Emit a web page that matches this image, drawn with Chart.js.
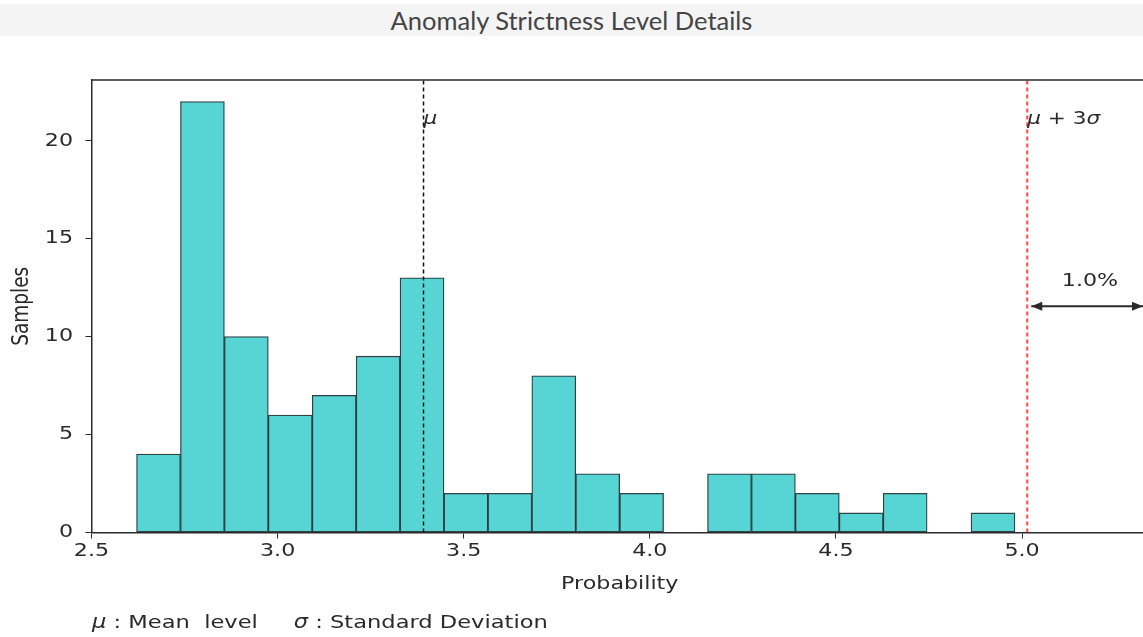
<!DOCTYPE html>
<html>
<head>
<meta charset="utf-8">
<script src="https://cdn.jsdelivr.net/npm/chart.js@4.4.1/dist/chart.umd.min.js"></script>
<style>
  html, body { margin: 0; padding: 0; background: #fff; overflow: hidden; width: 1143px; height: 637px; }
  #head { position: absolute; left: 0; top: 4px; width: 1143px; height: 32px; background: #f4f4f4;
          font-family: Lato, sans-serif; font-size: 25.5px; color: #444; text-align: center; line-height: 32px; }
  #wrap { position: absolute; left: 0; top: 0; width: 1143px; height: 637px; }
  #foot { position: absolute; left: 92px; top: 611px; font-family: "DejaVu Sans", sans-serif; font-size: 18.5px; color: #2a2a2a;
          white-space: pre; transform: scaleX(1.22); transform-origin: 0 0; }
  #foot i { font-style: italic; }
</style>
</head>
<body>
<div id="head">Anomaly Strictness Level Details</div>
<div id="wrap"><canvas id="c" width="1143" height="637"></canvas></div>
<div id="foot"><i>μ</i> : Mean  level     <i>σ</i> : Standard Deviation</div>
<script>
// --- DATA ---
const binCenters = [2.680, 2.798, 2.916, 3.034, 3.152, 3.270, 3.388, 3.506, 3.624, 3.742,
                    3.860, 3.978, 4.096, 4.214, 4.332, 4.450, 4.568, 4.686, 4.804, 4.922];
const binCounts  = [4, 22, 10, 6, 7, 9, 13, 2, 2, 8, 3, 2, 0, 3, 3, 2, 1, 2, 0, 1];
const xTicks = [2.5, 3.0, 3.5, 4.0, 4.5, 5.0];
const yTicks = [0, 5, 10, 15, 20];
const meanLevel = 3.392;
const upperLevel = 5.014;   // mu + 3 sigma
const tailLabel = '1.0%';
const xTitle = 'Probability', yTitle = 'Samples';
const xMin = 2.5, xMax = 5.325, yMax = 23.1;

const ink = '#2a2a2a';
const SX = 1.2;   // the original figure is stretched sideways
const FONT = '18.5px "DejaVu Sans"';

// draw text stretched horizontally
const txt = (ctx, s, x, y, align = 'left', font = FONT) => {
  ctx.save();
  ctx.font = font; ctx.textAlign = align; ctx.textBaseline = 'middle';
  ctx.translate(x, y); ctx.scale(SX, 1);
  ctx.fillText(s, 0, 0);
  const w = ctx.measureText(s).width * SX;
  ctx.restore();
  return w;
};

// labels, texts, arrow and top frame, positioned through the scales
const notes = {
  id: 'notes',
  afterDraw(chart) {
    const { ctx, chartArea: a, scales: { x, y } } = chart;
    ctx.save();
    ctx.strokeStyle = ink; ctx.fillStyle = ink; ctx.lineWidth = 1.5;
    ctx.beginPath(); ctx.moveTo(a.left, a.top); ctx.lineTo(a.right, a.top); ctx.stroke();

    // tick labels
    x.ticks.forEach(t => txt(ctx, t.value.toFixed(1), x.getPixelForValue(t.value), 551, 'center'));
    y.ticks.forEach(t => txt(ctx, String(t.value), 73, y.getPixelForValue(t.value), 'right'));

    // axis titles
    txt(ctx, xTitle, (a.left + 1150) / 2 - 1, 584, 'center');
    ctx.save();
    ctx.font = FONT; ctx.textAlign = 'center'; ctx.textBaseline = 'middle';
    ctx.translate(22, (a.top + a.bottom) / 2); ctx.rotate(-Math.PI / 2); ctx.scale(1, SX);
    ctx.fillText(yTitle, 0, 0);
    ctx.restore();

    // line labels
    const ly = y.getPixelForValue(21.1);
    const it = 'italic 18px "DejaVu Sans"', up = '18px "DejaVu Sans"';
    txt(ctx, 'μ', x.getPixelForValue(meanLevel), ly, 'left', it);
    let px = x.getPixelForValue(upperLevel);
    px += txt(ctx, 'μ', px, ly, 'left', it);
    px += txt(ctx, ' + 3', px, ly, 'left', up);
    txt(ctx, 'σ', px, ly, 'left', it);

    // double arrow to the right edge
    const ay = y.getPixelForValue(11.55);
    const x0 = x.getPixelForValue(upperLevel) + 4, x1 = a.right;
    ctx.lineWidth = 1.8;
    ctx.beginPath(); ctx.moveTo(x0, ay); ctx.lineTo(x1, ay); ctx.stroke();
    [[x0, 1], [x1, -1]].forEach(([hx, d]) => {
      ctx.beginPath(); ctx.moveTo(hx, ay); ctx.lineTo(hx + 11 * d, ay - 4.5); ctx.lineTo(hx + 11 * d, ay + 4.5); ctx.closePath(); ctx.fill();
    });
    txt(ctx, tailLabel, 1090, y.getPixelForValue(12.85), 'center');
    ctx.restore();
  }
};

new Chart(document.getElementById('c'), {
  type: 'bar',
  data: {
    datasets: [
      { type: 'bar', data: binCenters.map((c, i) => ({ x: c, y: binCounts[i] })),
        backgroundColor: '#57d5d5', borderColor: 'rgba(25,45,45,0.9)', borderWidth: 1.3,
        borderSkipped: false, barPercentage: 1, categoryPercentage: 1, order: 2 },
      { type: 'line', data: [{ x: meanLevel, y: 0 }, { x: meanLevel, y: yMax }],
        borderColor: '#111', borderWidth: 1.5, borderDash: [4, 3], pointRadius: 0, order: 1 },
      { type: 'line', data: [{ x: upperLevel, y: 0 }, { x: upperLevel, y: yMax }],
        borderColor: 'rgba(255,40,40,0.85)', borderWidth: 2, borderDash: [4, 3], pointRadius: 0, order: 1 }
    ]
  },
  options: {
    responsive: false,
    animation: false,
    devicePixelRatio: 1,
    layout: { padding: { top: 80, right: 0, bottom: 30, left: 0 } },
    plugins: { legend: { display: false }, tooltip: { enabled: false } },
    scales: {
      x: {
        type: 'linear', min: xMin, max: xMax, offset: false,
        afterBuildTicks: s => { s.ticks = xTicks.map(v => ({ value: v })); },
        afterFit: s => { s.height = 74.5; },
        grid: { drawOnChartArea: false, drawTicks: true, tickLength: 6, color: ink, offset: false },
        border: { display: true, color: ink, width: 1.5 },
        ticks: { display: false }
      },
      y: {
        min: 0, max: yMax,
        afterBuildTicks: s => { s.ticks = yTicks.map(v => ({ value: v })); },
        afterFit: s => { s.width = 91.5; },
        grid: { drawOnChartArea: false, drawTicks: true, tickLength: 6, color: ink },
        border: { display: true, color: ink, width: 1.5 },
        ticks: { display: false }
      }
    }
  },
  plugins: [notes]
});
</script>
</body>
</html>
